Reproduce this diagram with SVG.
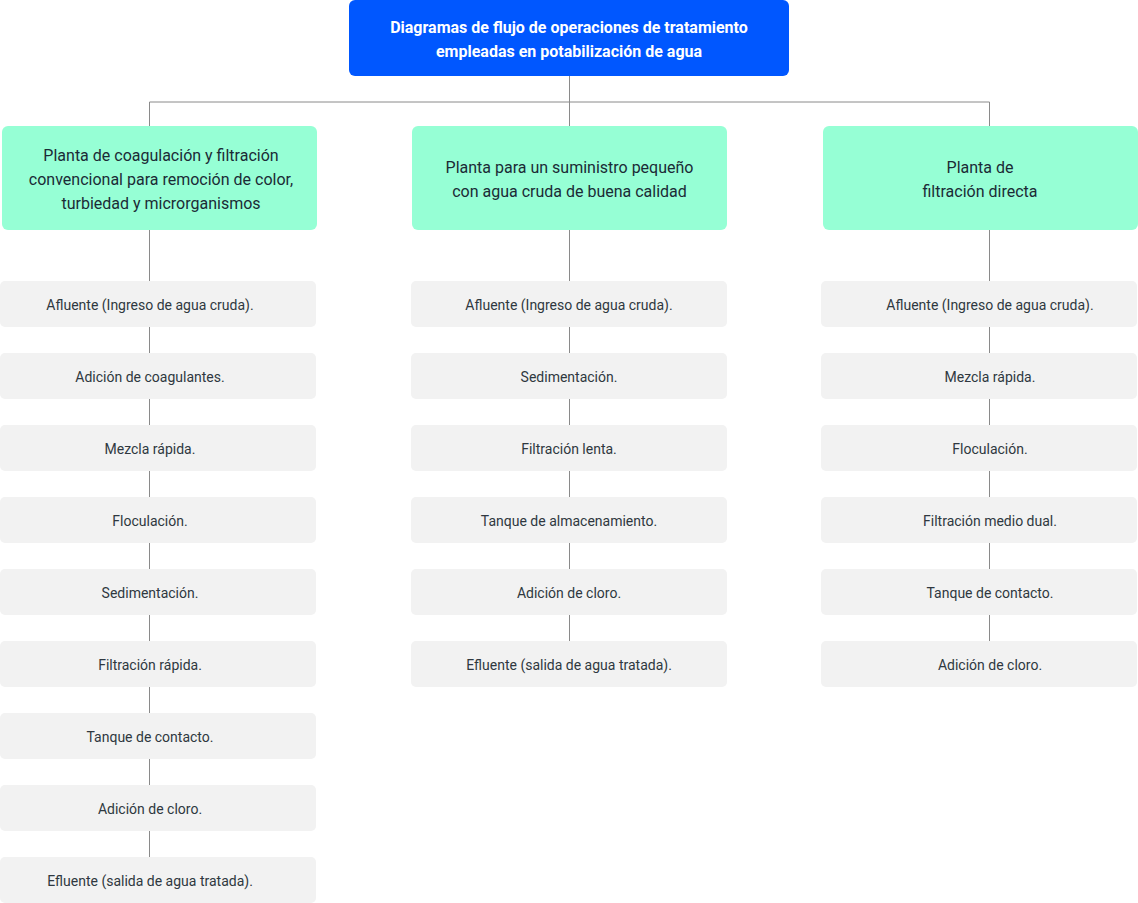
<svg xmlns="http://www.w3.org/2000/svg" width="1138" height="903" viewBox="0 0 1138 903">
<style>
.t{font-family:Roboto,"Liberation Sans",sans-serif;text-anchor:middle}
.top{fill:#0057ff}
.topt{font-size:16px;font-weight:bold;fill:#ffffff}
.g{fill:#96ffd5}
.gt{font-size:16px;fill:#1b2b36}
.s{fill:#f2f2f2}
.st{font-size:14px;fill:#2f3840}
.c{stroke:#8a8a8a;stroke-width:1;fill:none}
</style>
<rect width="1138" height="903" fill="#ffffff"/>
<g id="connectors">
<path class="c" d="M569.5 76V126M149.5 102H989.5M149.5 102V126M989.5 102V126"/>
<path class="c" d="M149.5 230V857"/>
<path class="c" d="M569.5 230V641"/>
<path class="c" d="M989.5 230V641"/>
</g>
<g id="root"><rect class="top" x="349" y="0" width="440" height="76" rx="6"/>
<text class="t topt" x="569" y="33">Diagramas de flujo de operaciones de tratamiento</text>
<text class="t topt" x="569" y="57">empleadas en potabilización de agua</text></g>
<g id="p1"><rect class="g" x="2" y="126" width="315" height="104" rx="6"/>
<text class="t gt" x="161" y="161">Planta de coagulación y filtración</text>
<text class="t gt" x="161" y="185">convencional para remoción de color,</text>
<text class="t gt" x="161" y="209">turbiedad y microrganismos</text></g>
<g id="p2"><rect class="g" x="412" y="126" width="315" height="104" rx="6"/>
<text class="t gt" x="569.5" y="173">Planta para un suministro pequeño</text>
<text class="t gt" x="569.5" y="197">con agua cruda de buena calidad</text></g>
<g id="p3"><rect class="g" x="823" y="126" width="315" height="104" rx="6"/>
<text class="t gt" x="980" y="173">Planta de</text>
<text class="t gt" x="980" y="197">filtración directa</text></g>
<g id="a1"><rect class="s" x="0" y="281" width="316" height="46" rx="5"/><text class="t st" x="150" y="310">Afluente (Ingreso de agua cruda).</text></g>
<g id="a2"><rect class="s" x="0" y="353" width="316" height="46" rx="5"/><text class="t st" x="150" y="382">Adición de coagulantes.</text></g>
<g id="a3"><rect class="s" x="0" y="425" width="316" height="46" rx="5"/><text class="t st" x="150" y="454">Mezcla rápida.</text></g>
<g id="a4"><rect class="s" x="0" y="497" width="316" height="46" rx="5"/><text class="t st" x="150" y="526">Floculación.</text></g>
<g id="a5"><rect class="s" x="0" y="569" width="316" height="46" rx="5"/><text class="t st" x="150" y="598">Sedimentación.</text></g>
<g id="a6"><rect class="s" x="0" y="641" width="316" height="46" rx="5"/><text class="t st" x="150" y="670">Filtración rápida.</text></g>
<g id="a7"><rect class="s" x="0" y="713" width="316" height="46" rx="5"/><text class="t st" x="150" y="742">Tanque de contacto.</text></g>
<g id="a8"><rect class="s" x="0" y="785" width="316" height="46" rx="5"/><text class="t st" x="150" y="814">Adición de cloro.</text></g>
<g id="a9"><rect class="s" x="0" y="857" width="316" height="46" rx="5"/><text class="t st" x="150" y="886">Efluente (salida de agua tratada).</text></g>
<g id="b1"><rect class="s" x="411" y="281" width="316" height="46" rx="5"/><text class="t st" x="569" y="310">Afluente (Ingreso de agua cruda).</text></g>
<g id="b2"><rect class="s" x="411" y="353" width="316" height="46" rx="5"/><text class="t st" x="569" y="382">Sedimentación.</text></g>
<g id="b3"><rect class="s" x="411" y="425" width="316" height="46" rx="5"/><text class="t st" x="569" y="454">Filtración lenta.</text></g>
<g id="b4"><rect class="s" x="411" y="497" width="316" height="46" rx="5"/><text class="t st" x="569" y="526">Tanque de almacenamiento.</text></g>
<g id="b5"><rect class="s" x="411" y="569" width="316" height="46" rx="5"/><text class="t st" x="569" y="598">Adición de cloro.</text></g>
<g id="b6"><rect class="s" x="411" y="641" width="316" height="46" rx="5"/><text class="t st" x="569" y="670">Efluente (salida de agua tratada).</text></g>
<g id="c1"><rect class="s" x="821" y="281" width="316" height="46" rx="5"/><text class="t st" x="990" y="310">Afluente (Ingreso de agua cruda).</text></g>
<g id="c2"><rect class="s" x="821" y="353" width="316" height="46" rx="5"/><text class="t st" x="990" y="382">Mezcla rápida.</text></g>
<g id="c3"><rect class="s" x="821" y="425" width="316" height="46" rx="5"/><text class="t st" x="990" y="454">Floculación.</text></g>
<g id="c4"><rect class="s" x="821" y="497" width="316" height="46" rx="5"/><text class="t st" x="990" y="526">Filtración medio dual.</text></g>
<g id="c5"><rect class="s" x="821" y="569" width="316" height="46" rx="5"/><text class="t st" x="990" y="598">Tanque de contacto.</text></g>
<g id="c6"><rect class="s" x="821" y="641" width="316" height="46" rx="5"/><text class="t st" x="990" y="670">Adición de cloro.</text></g>
</svg>
